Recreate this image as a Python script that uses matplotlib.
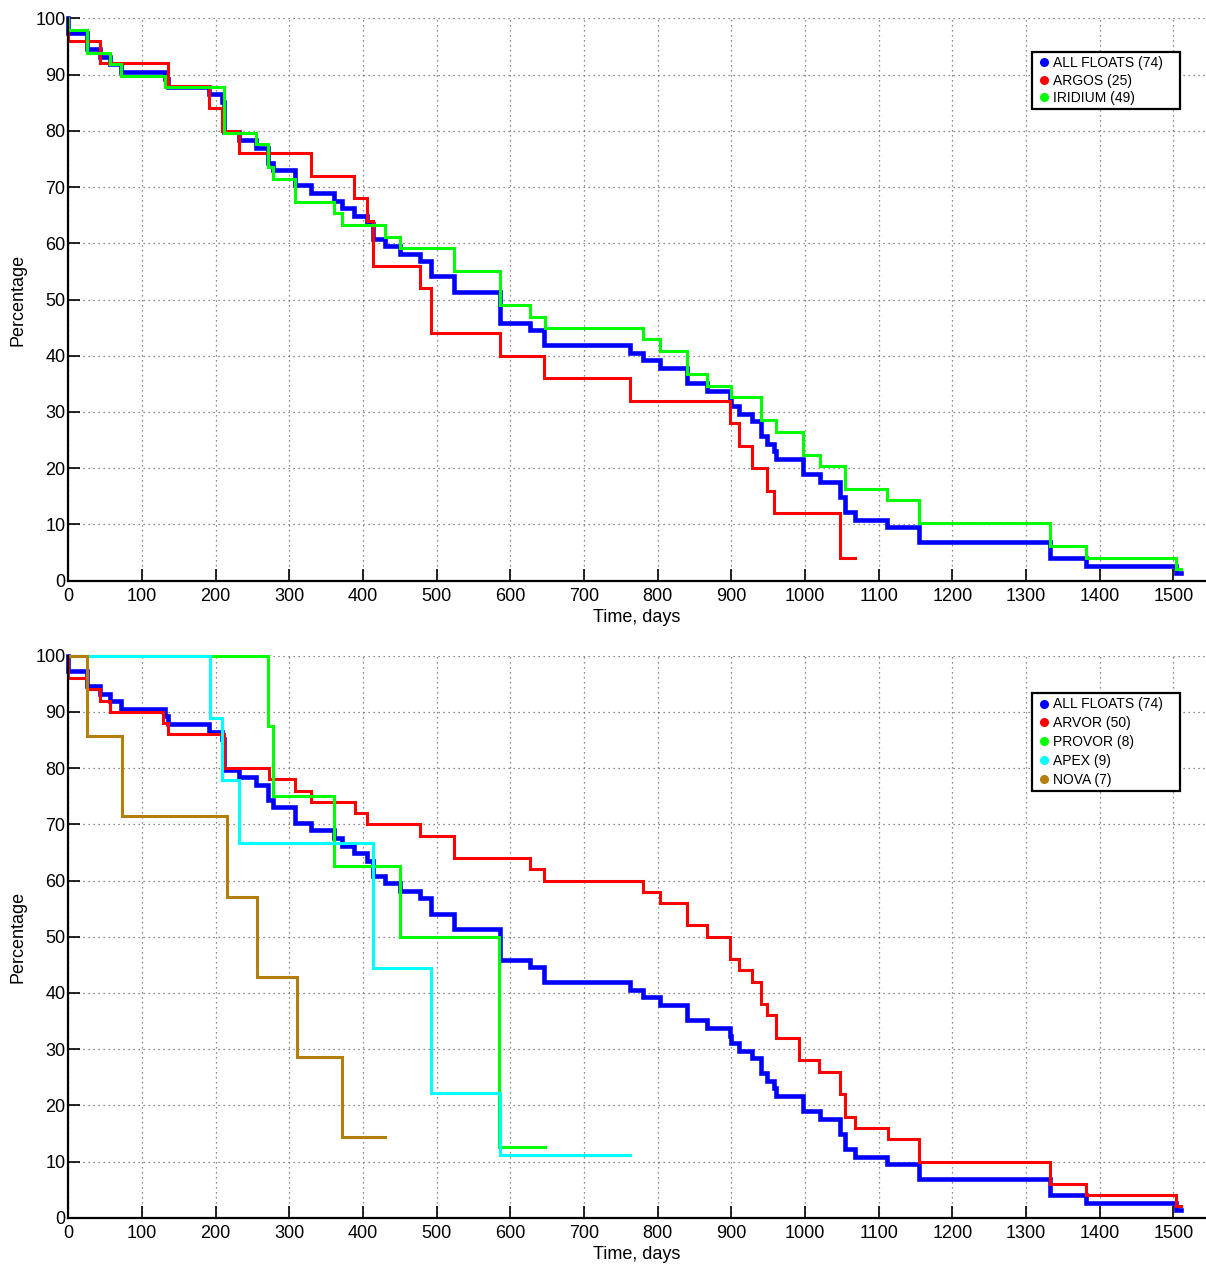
import matplotlib
matplotlib.use("Agg")
import matplotlib.pyplot as plt
from matplotlib.lines import Line2D

plt.rcParams['font.family'] = ['Liberation Sans', 'DejaVu Sans']

# ---------------- data (days, percentage) ----------------
all_t = [0, 0, 26, 43, 57, 72, 131, 136, 191, 208, 211, 232, 255, 271, 278, 308, 330, 360, 372, 388,
         405, 413, 430, 450, 477, 492, 523, 586, 627, 646, 763, 780, 803, 840, 867, 898, 900, 911, 928, 940,
         948, 958, 961, 997, 1020, 1047, 1054, 1068, 1111, 1155, 1333, 1381, 1504, 1511]
all_v = [100, 97.3, 94.6, 93.2, 91.9, 90.5, 89.2, 87.8, 86.5, 85.1, 79.7, 78.4, 77.0, 74.3, 73.0, 70.3, 68.9, 67.6, 66.2, 64.9,
         63.5, 60.8, 59.5, 58.1, 56.8, 54.1, 51.4, 45.9, 44.6, 41.9, 40.5, 39.2, 37.8, 35.1, 33.8, 32.4, 31.1, 29.7, 28.4, 25.7,
         24.3, 23.0, 21.6, 18.9, 17.6, 14.9, 12.2, 10.8, 9.5, 6.8, 4.1, 2.7, 1.4, 1.4]

argos_t = [0, 0, 43, 136, 191, 208, 232, 330, 388, 405, 413, 477, 492, 586, 646, 763, 898, 911, 928, 948, 958, 1047, 1068]
argos_v = [100, 96, 92, 88, 84, 80, 76, 72, 68, 64, 56, 52, 44, 40, 36, 32, 28, 24, 20, 16, 12, 4, 4]

iridium_t = [0, 0, 26, 57, 72, 131, 211, 255, 271, 278, 308, 360, 372, 430, 450, 523, 586, 627, 647, 780,
             803, 840, 867, 900, 940, 961, 997, 1020, 1054, 1111, 1155, 1333, 1381, 1504, 1511]
iridium_v = [100, 98.0, 93.9, 91.8, 89.8, 87.8, 79.6, 77.6, 73.5, 71.4, 67.3, 65.3, 63.3, 61.2, 59.2, 55.1, 49.0, 46.9, 44.9, 42.9,
             40.8, 36.7, 34.7, 32.7, 28.6, 26.5, 22.4, 20.4, 16.3, 14.3, 10.2, 6.1, 4.1, 2.0, 2.0]

arvor_t = [0, 0, 26, 43, 57, 129, 136, 211, 273, 308, 330, 389, 405, 477, 523, 627, 646, 780, 803, 840,
           867, 898, 911, 928, 940, 948, 961, 992, 1019, 1048, 1054, 1068, 1112, 1155, 1332, 1381, 1504, 1511]
arvor_v = [100, 96, 94, 92, 90, 88, 86, 80, 78, 76, 74, 72, 70, 68, 64, 62, 60, 58, 56, 52,
           50, 46, 44, 42, 38, 36, 32, 28, 26, 22, 18, 16, 14, 10, 6, 4, 2, 2]

provor_t = [0, 271, 278, 361, 450, 584, 647]
provor_v = [100, 87.5, 75.0, 62.5, 50.0, 12.5, 12.5]

apex_t = [0, 192, 209, 232, 414, 492, 586, 762]
apex_v = [100, 88.9, 77.8, 66.7, 44.4, 22.2, 11.1, 11.1]

nova_t = [0, 25, 73, 216, 256, 311, 371, 430]
nova_v = [100, 85.7, 71.4, 57.1, 42.9, 28.6, 14.3, 14.3]

top_labels = ["ALL FLOATS (74)", "ARGOS (25)", "IRIDIUM (49)"]
bot_labels = ["ALL FLOATS (74)", "ARVOR (50)", "PROVOR (8)", "APEX (9)", "NOVA (7)"]

xticks = list(range(0, 1600, 100))
yticks = list(range(0, 101, 10))

C_BLUE = "#0000FF"
C_RED = "#FF0000"
C_GREEN = "#00FF00"
C_CYAN = "#00FFFF"
C_BROWN = "#B47E0A"

W, H = 1206, 1269
fig = plt.figure(figsize=(W / 100, H / 100), dpi=100)

x0 = 68.3
px_per_day = 0.7367
xmax = (W - x0) / px_per_day


def make_axes(top_px, bottom_px):
    ax = fig.add_axes([x0 / W, 1 - bottom_px / H, (W - x0) / W, (bottom_px - top_px) / H])
    ax.set_xlim(0, xmax)
    ax.set_ylim(0, 100)
    ax.set_xticks(xticks)
    ax.set_yticks(yticks)
    for s in ["top", "right"]:
        ax.spines[s].set_visible(False)
    for s in ["left", "bottom"]:
        ax.spines[s].set_linewidth(1.6)
        ax.spines[s].set_zorder(5)
    ax.tick_params(direction="in", length=8.5, width=1.2, labelsize=13, colors="black")
    ax.tick_params(axis="x", pad=5)
    ax.tick_params(axis="y", pad=2)
    ax.grid(True, color="0.4", linestyle=(0, (1, 3)), linewidth=0.9)
    ax.set_axisbelow(True)
    ax.set_xlabel("Time, days", fontsize=13, labelpad=3)
    ax.set_ylabel("Percentage", fontsize=13, labelpad=6)
    return ax


def draw(ax, t, v, color, lw):
    ax.step(t, v, where="post", color=color, linewidth=lw, clip_on=False,
            solid_joinstyle="miter")


def legend(ax, colors, labels, box_px, axes_px, spacing):
    left, right, top = box_px
    atop, abot = axes_px
    fx0 = (left - x0) / (W - x0)
    fw = (right - left) / (W - x0)
    fy = (abot - top) / (abot - atop)
    handles = [Line2D([], [], linestyle="none", marker="o", markersize=5.5,
                      markerfacecolor=c, markeredgecolor=c) for c in colors]
    lg = ax.legend(handles, labels, loc="upper left", bbox_to_anchor=(fx0, fy - 0.3, fw, 0.3),
                   mode="expand", fontsize=10, frameon=True, fancybox=False, framealpha=1,
                   edgecolor="black", handlelength=1.2, handletextpad=0.0,
                   borderpad=0.3, labelspacing=spacing, borderaxespad=0)
    lg.get_frame().set_linewidth(1.6)
    lg.set_zorder(10)
    return lg


# ---------------- top panel ----------------
ax1 = make_axes(18.3, 580.7)
draw(ax1, all_t, all_v, C_BLUE, 3.3)
draw(ax1, argos_t, argos_v, C_RED, 2.2)
draw(ax1, iridium_t, iridium_v, C_GREEN, 2.2)
legend(ax1, [C_BLUE, C_RED, C_GREEN], top_labels, (1031.7, 1180.3, 52), (18.3, 580.7), 0.25)

# ---------------- bottom panel ----------------
ax2 = make_axes(655.7, 1217.7)
draw(ax2, all_t, all_v, C_BLUE, 3.3)
draw(ax2, arvor_t, arvor_v, C_RED, 2.2)
draw(ax2, provor_t, provor_v, C_GREEN, 2.2)
draw(ax2, apex_t, apex_v, C_CYAN, 2.2)
draw(ax2, nova_t, nova_v, C_BROWN, 2.2)
legend(ax2, [C_BLUE, C_RED, C_GREEN, C_CYAN, C_BROWN], bot_labels, (1031.7, 1180.3, 693.3), (655.7, 1217.7), 0.35)

fig.savefig("out.png", dpi=100)
